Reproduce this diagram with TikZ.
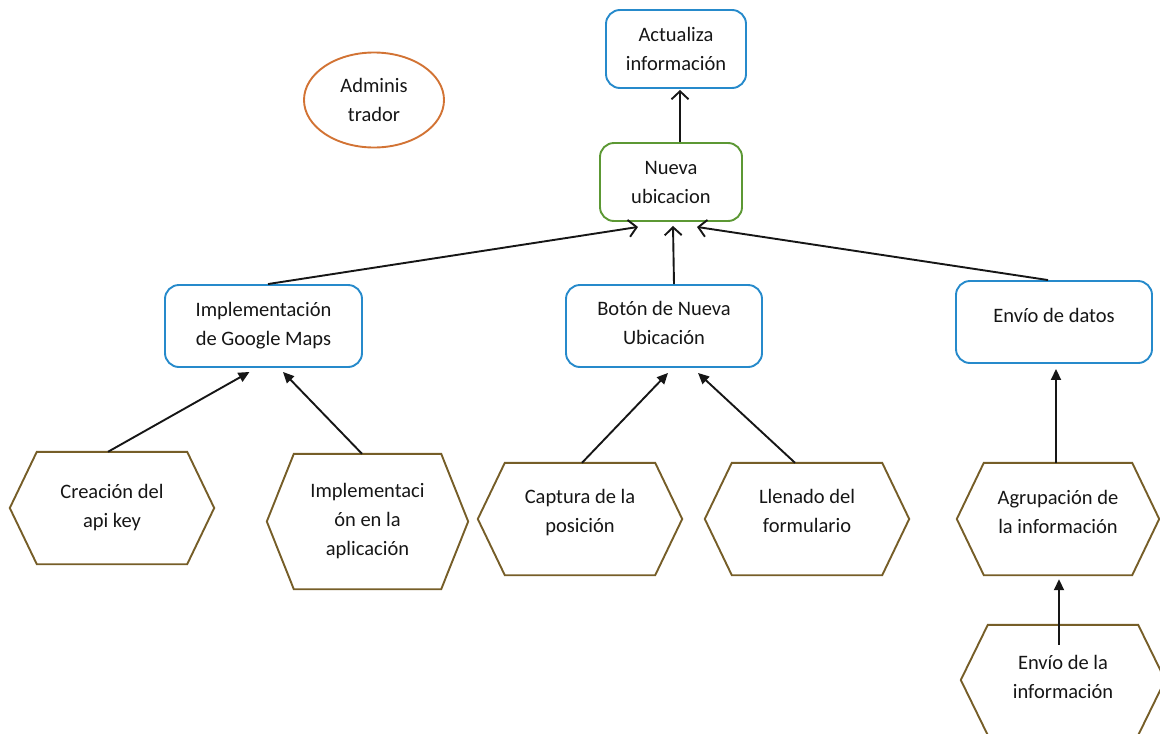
\documentclass[tikz,border=0pt]{standalone}
\usepackage{fontspec}
\setmainfont{Carlito}
\usetikzlibrary{arrows.meta,shapes.geometric}
\definecolor{boxblue}{RGB}{38,138,203}
\definecolor{boxgreen}{RGB}{92,152,52}
\definecolor{ovalorange}{RGB}{210,115,52}
\definecolor{hexbrown}{RGB}{118,94,40}
\definecolor{ink}{RGB}{22,22,22}
\tikzset{
  every node/.style={font=\fontsize{20.5}{29}\selectfont, text=ink, align=center},
  rbox/.style={draw=boxblue, line width=1.9pt, rounded corners=14pt, inner sep=0pt},
  gbox/.style={rbox, draw=boxgreen},
  oval/.style={draw=ovalorange, line width=1.9pt, ellipse, inner sep=0pt},
  hexbox/.style={inner sep=0pt},
  hexline/.style={draw=hexbrown, line width=1.9pt, line join=miter},
  raised/.style 2 args={label={[yshift=#1]center:{#2}}},
  openarrow/.style={draw=ink, line width=1.9pt, -{Straight Barb[length=8pt,width=17pt,line width=1.9pt]}},
  solidarrow/.style={draw=ink, line width=1.9pt, -{Triangle[length=11pt,width=10pt]}}
}
\begin{document}
\begin{tikzpicture}[x=1pt,y=-1pt]
\useasboundingbox (0,0) rectangle (1160,734);

% top level
\node[rbox, minimum width=140pt, minimum height=78pt] (act) at (676,49) {Actualiza\\información};
\node[gbox, minimum width=142pt, minimum height=78pt] (nue) at (671,182) {Nueva\\ubicacion};
\node[oval, minimum width=140pt, minimum height=95pt] (adm) at (374,100) {Adminis\\trador};

% middle level
\node[rbox, minimum width=197pt, minimum height=82pt] (gmaps) at (263.5,326) {Implementación\\de Google Maps};
\node[rbox, minimum width=196pt, minimum height=82pt,
      raised={3pt}{Botón de Nueva\\Ubicación}] (boton) at (664,326) {};
\node[rbox, minimum width=196pt, minimum height=82pt,
      raised={7pt}{Envío de datos}] (envdat) at (1054,322) {};

% hexagonal tasks
\node[hexbox, minimum width=204pt, minimum height=112pt] (cre) at (112,508) {Creación del\\api key};
\node[hexbox, minimum width=201pt, minimum height=135pt] (imph) at (367.5,521.5) {Implementaci\\ón en la\\aplicación};
\node[hexbox, minimum width=204pt, minimum height=112pt,
      raised={6pt}{Captura de la\\posición}] (cap) at (580,519) {};
\node[hexbox, minimum width=204pt, minimum height=112pt,
      raised={8pt}{Llenado del\\formulario}] (lle) at (807,519) {};
\node[hexbox, minimum width=202pt, minimum height=112pt,
      raised={7pt}{Agrupación de\\la información}] (agr) at (1058,519) {};
\node[hexbox, minimum width=204pt, minimum height=110pt,
      raised={3pt}{Envío de la\\información}] (envinf) at (1063,680) {};

\foreach \n in {cre,imph,cap,lle,agr,envinf}{
  \draw[hexline] (\n.west) -- ([xshift=27pt]\n.north west) -- ([xshift=-27pt]\n.north east)
    -- (\n.east) -- ([xshift=-27pt]\n.south east) -- ([xshift=27pt]\n.south west) -- cycle;
}

% connectors
\draw[openarrow] ([xshift=9pt]nue.north) -- ([xshift=4pt,yshift=-1pt]act.south);
\draw[openarrow] ([xshift=4.5pt]gmaps.north) -- ([xshift=-33pt,yshift=-5pt]nue.south);
\draw[openarrow] ([xshift=10pt]boton.north) -- ([xshift=2pt,yshift=-4pt]nue.south);
\draw[openarrow] ([xshift=-6pt]envdat.north) -- ([xshift=26pt,yshift=-5pt]nue.south);

\draw[solidarrow] ([xshift=-4pt]cre.north) -- ([xshift=-14pt,yshift=-4pt]gmaps.south);
\draw[solidarrow] ([xshift=-5.5pt]imph.north) -- ([xshift=19.5pt,yshift=-4pt]gmaps.south);
\draw[solidarrow] ([xshift=2pt]cap.north) -- ([xshift=4pt,yshift=-5pt]boton.south);
\draw[solidarrow] ([xshift=-12pt]lle.north) -- ([xshift=34pt,yshift=-5pt]boton.south);
\draw[solidarrow] ([xshift=-2pt]agr.north) -- ([xshift=2pt,yshift=-5pt]envdat.south);
\draw[solidarrow] ([xshift=-4pt,yshift=-20pt]envinf.north) -- ([xshift=1pt,yshift=-4pt]agr.south);
\end{tikzpicture}
\end{document}
